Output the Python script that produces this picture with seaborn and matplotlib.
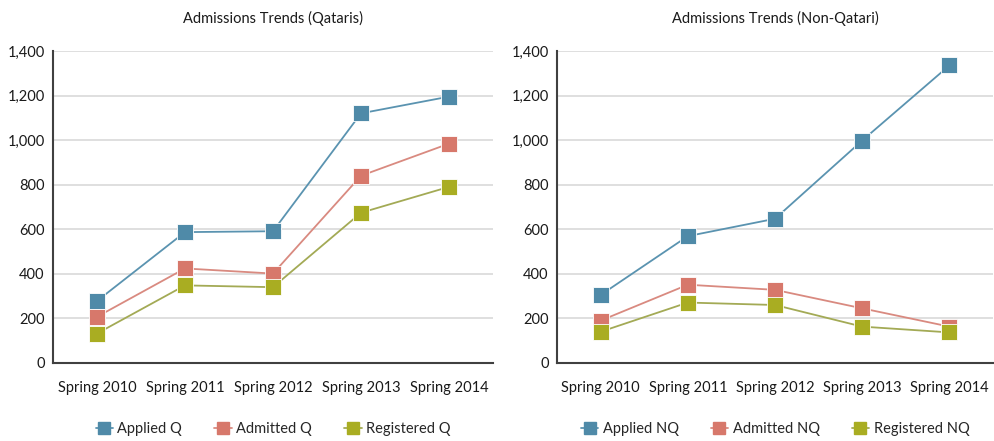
import numpy as np
import pandas as pd
import matplotlib
matplotlib.use("Agg")
import matplotlib.pyplot as plt
import seaborn as sns
from matplotlib.ticker import FuncFormatter

categories = ["Spring 2010", "Spring 2011", "Spring 2012", "Spring 2013", "Spring 2014"]
applied_q = [278, 587, 591, 1120, 1195]
admitted_q = [207, 424, 401, 840, 984]
registered_q = [132, 348, 340, 674, 790]
applied_nq = [305, 569, 647, 998, 1335]
admitted_nq = [190, 351, 328, 245, 163]
registered_nq = [140, 271, 260, 163, 137]

colors = ["#4f8aa8", "#d7786b", "#a9ad22"]
line_colors = ["#5a93b0", "#d98a80", "#a3aa55"]

sns.set_theme(style="white")
plt.rcParams["font.family"] = ["Lato", "DejaVu Sans"]

fig = plt.figure(figsize=(9.94, 4.41), dpi=100)
ax1 = fig.add_axes([0.0533, 0.177, 0.4427, 0.7075])
ax2 = fig.add_axes([0.5604, 0.177, 0.4386, 0.7075])

panels = [
    (ax1, "Admissions Trends (Qataris)", ["Applied Q", "Admitted Q", "Registered Q"],
     [applied_q, admitted_q, registered_q]),
    (ax2, "Admissions Trends (Non-Qatari)", ["Applied NQ", "Admitted NQ", "Registered NQ"],
     [applied_nq, admitted_nq, registered_nq]),
]

for ax, title, names, series in panels:
    rows = []
    for n, vals in zip(names, series):
        for i, (c, v) in enumerate(zip(categories, vals)):
            rows.append({"pos": i, "Category": c, "Series": n, "Value": v})
    df = pd.DataFrame(rows)
    pal = dict(zip(names, line_colors))
    sns.lineplot(data=df, x="pos", y="Value", hue="Series", palette=pal, ax=ax,
                 linewidth=1.3, legend=False)
    for n, col in zip(names, colors):
        sub = df[df["Series"] == n]
        sns.scatterplot(data=sub, x="pos", y="Value", ax=ax, marker="s", s=120,
                        color=col, edgecolor="white", linewidth=0.6, zorder=5, legend=False)
    ax.set_xlim(-0.5, 4.5)
    ax.set_ylim(0, 1400)
    ax.set_yticks(range(0, 1401, 200))
    ax.yaxis.set_major_formatter(FuncFormatter(lambda v, p: f"{int(v):,}"))
    ax.set_xticks(range(len(categories)))
    ax.set_xticklabels(categories)
    ax.set_xlabel("")
    ax.set_ylabel("")
    ax.grid(axis="y", color="#d9d9d9", linewidth=1.2)
    ax.set_axisbelow(True)
    for s in ["top", "right"]:
        ax.spines[s].set_visible(False)
    for s in ["left", "bottom"]:
        ax.spines[s].set_color("#404040")
        ax.spines[s].set_linewidth(1.5)
    ax.tick_params(axis="both", length=0, labelsize=10.5, colors="#1a1a1a")
    ax.tick_params(axis="y", pad=6)
    ax.tick_params(axis="x", pad=13)
    ax.set_title(title, fontsize=10.5, color="#1a1a1a", pad=20)
    handles = [plt.Line2D([0], [0], color=lc, marker="s", markersize=8,
                          markerfacecolor=c, markeredgecolor=c, linewidth=1.3)
               for lc, c in zip(line_colors, colors)]
    ax.legend(handles, names, loc="center", bbox_to_anchor=(0.5, -0.212),
              ncol=3, frameon=False, fontsize=10.5, handlelength=1.2,
              handletextpad=0.3, columnspacing=2.2)

fig.savefig("out.png", dpi=100)
